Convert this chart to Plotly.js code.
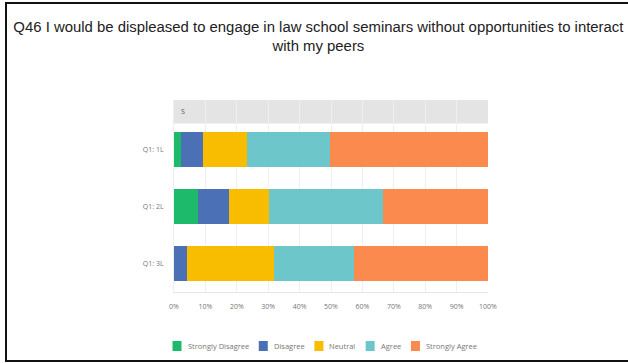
<!DOCTYPE html>
<html>
<head>
<meta charset="utf-8">
<script src="https://cdn.plot.ly/plotly-3.0.1.min.js"></script>
<style>
html,body{margin:0;padding:0;background:#fff;}
#wrap{position:relative;width:628px;height:363px;overflow:hidden;}
#chart{width:628px;height:363px;}
#frame{position:absolute;left:5px;top:2px;width:640px;height:356px;border:2px solid #111;pointer-events:none;}
</style>
</head>
<body>
<div id="wrap"><div id="chart"></div><div id="frame"></div></div>
<script>
// ---- data ----
const categories = ["Q1: 1L", "Q1: 2L", "Q1: 3L"];
const seriesNames = ["Strongly Disagree", "Disagree", "Neutral", "Agree", "Strongly Agree"];
const stronglyDisagree = [2.1, 7.7, 0];
const disagree = [7.2, 9.9, 4.0];
const neutral = [13.8, 12.8, 27.8];
const agree = [26.6, 36.3, 25.5];
const stronglyAgree = [50.3, 33.3, 42.7];
const xTickVals = [0, 10, 20, 30, 40, 50, 60, 70, 80, 90, 100];
const xTickText = ["0%", "10%", "20%", "30%", "40%", "50%", "60%", "70%", "80%", "90%", "100%"];
const groupLabel = "S";
const titleText = "Q46 I would be displeased to engage in law school seminars without opportunities to interact<br>with my peers";

const colors = ["#1dba6b", "#4b70b5", "#f8bd00", "#6cc6ca", "#fb8a4f"];
const values = [stronglyDisagree, disagree, neutral, agree, stronglyAgree];

const traces = seriesNames.map((name, i) => ({
  type: "bar",
  orientation: "h",
  name: name,
  y: categories,
  x: values[i],
  marker: {color: colors[i], line: {width: 0}},
  hoverinfo: "none"
}));

// plot area geometry (pixels) for legend layout
const L = 174, R = 140, T = 100, B = 71;
const W = 628 - L - R, H = 363 - T - B;
const px2x = p => (p - L) / W;
const py2y = p => (363 - B - p) / H;

// legend built from series names / colors
const legFont = 7.5;
const ctx = document.createElement("canvas").getContext("2d");
ctx.font = legFont + "px 'Open Sans'";
const shapes = [];
const annotations = [];
let cur = 172.5;
const legY = 346;
seriesNames.forEach((n, i) => {
  shapes.push({type: "rect", xref: "paper", yref: "paper",
    x0: px2x(cur), x1: px2x(cur + 9), y0: py2y(legY + 5), y1: py2y(legY - 5),
    fillcolor: colors[i], line: {width: 0}});
  const tw = ctx.measureText(n).width;
  annotations.push({xref: "paper", yref: "paper", x: px2x(cur + 13), y: py2y(legY),
    xanchor: "left", yanchor: "middle", text: n, showarrow: false,
    font: {family: "Open Sans", size: legFont, color: "#777"}});
  cur += 13 + tw + 12;
});

// header band
shapes.push({type: "rect", xref: "paper", yref: "paper", layer: "below",
  x0: 0, x1: 1, y0: py2y(123.5), y1: 1, fillcolor: "#e4e4e4", line: {width: 0}});
annotations.push({xref: "paper", yref: "paper", x: px2x(179), y: py2y(111.5),
  xanchor: "left", yanchor: "middle", text: groupLabel, showarrow: false,
  font: {family: "Open Sans", size: 7, color: "#555"}});

const layout = {
  width: 628, height: 363,
  margin: {l: L, r: R, t: T, b: B},
  paper_bgcolor: "#fff", plot_bgcolor: "#fff",
  barmode: "stack",
  bargap: 0.38,
  showlegend: false,
  hovermode: false,
  title: {text: titleText, x: 0.507, xanchor: "center", y: 0.912, yanchor: "top",
    font: {family: "Liberation Sans, Arial", size: 14.9, color: "#222"}},
  xaxis: {range: [0, 100], tickvals: xTickVals, ticktext: xTickText,
    showgrid: true, gridcolor: "#efefef", gridwidth: 1, zeroline: false,
    showline: true, linecolor: "#e6e6e6", linewidth: 1,
    ticks: "", ticklabelstandoff: 8,
    tickfont: {family: "Open Sans", size: 7, color: "#777"}, fixedrange: true},
  yaxis: {type: "category", categoryorder: "array", categoryarray: categories,
    range: [2.5, -0.868], showgrid: false, zeroline: false,
    showline: true, linecolor: "#eeeeee", linewidth: 1,
    ticks: "", ticklabelstandoff: 8,
    tickfont: {family: "Open Sans", size: 7, color: "#777"}, fixedrange: true},
  shapes: shapes,
  annotations: annotations
};

Plotly.newPlot("chart", traces, layout, {displayModeBar: false, staticPlot: true});
</script>
</body>
</html>
